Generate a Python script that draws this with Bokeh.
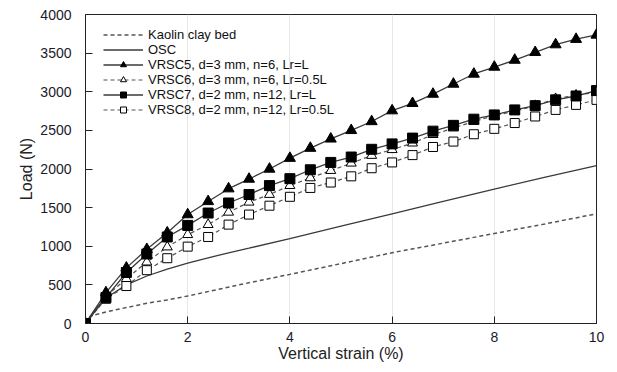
from bokeh.plotting import figure
from bokeh.models import Range1d, FixedTicker, Legend, LegendItem
from bokeh.embed import file_html
from bokeh.resources import INLINE

# ---------------- data ----------------
strain = [0, 0.4, 0.8, 1.2, 1.6, 2.0, 2.4, 2.8, 3.2, 3.6, 4.0, 4.4, 4.8, 5.2,
          5.6, 6.0, 6.4, 6.8, 7.2, 7.6, 8.0, 8.4, 8.8, 9.2, 9.6, 10.0]

kaolin_x = [0, 0.1, 0.4, 0.8, 1.2, 1.6, 2, 3, 4, 5, 6, 7, 8, 9, 10]
kaolin_y = [0, 98, 150, 206, 262, 305, 356, 500, 636, 775, 916, 1040, 1165, 1290, 1420]

osc_x = [0, 0.2, 0.4, 0.8, 1.2, 1.6, 2, 2.4, 2.8, 3.2, 4, 5, 6, 7, 8, 9, 10]
osc_y = [0, 190, 330, 500, 615, 705, 780, 850, 915, 975, 1100, 1260, 1420, 1580, 1740, 1895, 2045]

vrsc5 = [0, 400, 720, 960, 1175, 1410, 1580, 1745, 1870, 2000, 2140, 2270, 2390,
         2500, 2615, 2755, 2850, 2970, 3100, 3230, 3320, 3410, 3510, 3610, 3680, 3735]
vrsc6 = [0, 350, 580, 795, 990, 1150, 1280, 1440, 1570, 1670, 1785, 1885, 1980,
         2075, 2175, 2250, 2335, 2445, 2530, 2615, 2690, 2750, 2820, 2910, 2955, 2990]
vrsc7 = [0, 335, 660, 900, 1120, 1270, 1430, 1560, 1670, 1785, 1875, 1990, 2085,
         2155, 2255, 2325, 2400, 2490, 2565, 2645, 2700, 2765, 2820, 2895, 2945, 3015]
vrsc8 = [0, 320, 485, 690, 845, 995, 1120, 1280, 1410, 1525, 1640, 1755, 1825,
         1905, 2010, 2085, 2180, 2285, 2355, 2450, 2520, 2595, 2680, 2765, 2830, 2895]

labels = ["Kaolin clay bed", "OSC", "VRSC5, d=3 mm, n=6, Lr=L",
          "VRSC6, d=3 mm, n=6, Lr=0.5L", "VRSC7, d=2 mm, n=12, Lr=L",
          "VRSC8, d=2 mm, n=12, Lr=0.5L"]
x_ticks = [0, 2, 4, 6, 8, 10]
y_ticks = [0, 500, 1000, 1500, 2000, 2500, 3000, 3500, 4000]

FONT = "Liberation Sans"

p = figure(width=609, height=364, output_backend="svg", toolbar_location=None,
           x_range=Range1d(0, 10), y_range=Range1d(0, 4000),
           min_border_left=85, min_border_right=13, min_border_top=14, min_border_bottom=40)

p.outline_line_color = "#222222"
p.outline_line_width = 1
p.background_fill_color = "white"
p.border_fill_color = "white"

p.ygrid.visible = False
p.xgrid.grid_line_color = "#e6e6e6"
p.xgrid.ticker = FixedTicker(ticks=x_ticks)

for ax in (p.xaxis[0], p.yaxis[0]):
    ax.axis_line_color = "#222222"
    ax.major_tick_line_color = "#222222"
    ax.major_tick_in = 7
    ax.major_tick_out = 0
    ax.minor_tick_line_color = None
    ax.major_label_text_font = FONT
    ax.major_label_text_font_size = "14px"
    ax.major_label_text_color = "#1a1a2a"
    ax.axis_label_text_font = FONT
    ax.axis_label_text_font_size = "16px"
    ax.axis_label_text_font_style = "normal"
    ax.axis_label_text_color = "#222222"

p.xaxis.ticker = FixedTicker(ticks=x_ticks)
p.yaxis.ticker = FixedTicker(ticks=y_ticks)
p.xaxis.axis_label = "Vertical strain (%)"
p.yaxis.axis_label = "Load (N)"
p.xaxis.major_label_standoff = 8
p.yaxis.major_label_standoff = 14
p.xaxis.axis_label_standoff = 0
p.yaxis.axis_label_standoff = 2

DASH = "4 3"
SOLID_C = "#3a3a3a"
DASH_C = "#555555"

r_k = p.line(kaolin_x, kaolin_y, line_color=DASH_C, line_width=1.5, line_dash=DASH)
r_o = p.line(osc_x, osc_y, line_color=SOLID_C, line_width=1.3)

r6l = p.line(strain, vrsc6, line_color=DASH_C, line_width=1.2, line_dash=DASH)
r6m = p.scatter(strain, vrsc6, marker="triangle", size=10, fill_color="white",
                line_color="black", line_width=1)
r8l = p.line(strain, vrsc8, line_color=DASH_C, line_width=1.2, line_dash=DASH)
r8m = p.scatter(strain, vrsc8, marker="square", size=9, fill_color="white",
                line_color="black", line_width=1)
r5l = p.line(strain, vrsc5, line_color=SOLID_C, line_width=1.3)
r5m = p.scatter(strain, vrsc5, marker="triangle", size=11, fill_color="black",
                line_color="black")
r7l = p.line(strain, vrsc7, line_color=SOLID_C, line_width=1.3)
r7m = p.scatter(strain, vrsc7, marker="square", size=10, fill_color="black",
                line_color="black")

legend = Legend(items=[
    LegendItem(label=labels[0], renderers=[r_k]),
    LegendItem(label=labels[1], renderers=[r_o]),
    LegendItem(label=labels[2], renderers=[r5l, r5m]),
    LegendItem(label=labels[3], renderers=[r6l, r6m]),
    LegendItem(label=labels[4], renderers=[r7l, r7m]),
    LegendItem(label=labels[5], renderers=[r8l, r8m]),
], location=(18, 206))
legend.background_fill_alpha = 0
legend.border_line_color = None
legend.padding = 4
legend.margin = 0
legend.spacing = 0
legend.glyph_width = 40
legend.glyph_height = 15
legend.label_height = 15
legend.label_standoff = 5
legend.label_text_font = FONT
legend.label_text_font_size = "13px"
legend.label_text_color = "#111111"
p.add_layout(legend)

open("out.html", "w").write(file_html(p, INLINE))
